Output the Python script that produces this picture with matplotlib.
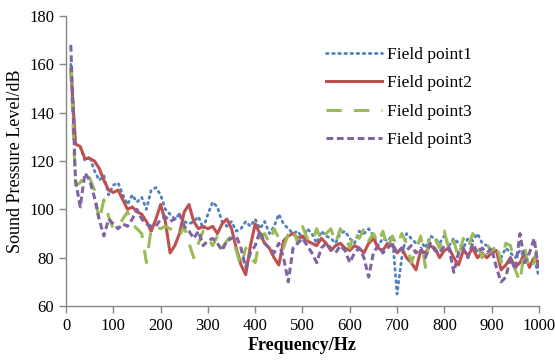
import numpy as np
import matplotlib
matplotlib.use("Agg")
import matplotlib.pyplot as plt

freq = list(range(10, 1001, 10))

fp1 = [160,127,126,120,122,116,112,114,106,110,111,106,102,106,103,105,100,108,109,106,
       100,98,96,98,95,94,95,97,92,98,103,101,95,93,95,91,92,95,93,96,
       92,95,90,93,98,94,92,90,91,88,92,90,86,91,89,88,86,90,91,88,
       86,91,90,92,89,85,88,87,89,65,80,90,88,86,87,84,89,88,86,89,
       85,88,86,84,88,87,90,86,85,82,83,80,84,82,80,83,80,77,80,72]
fp2 = [158,127,126,121,121,120,117,112,108,107,108,104,100,101,99,98,95,91,96,102,
       95,82,85,90,99,102,95,92,93,92,93,90,94,96,92,84,77,73,85,94,
       90,86,84,80,77,87,89,90,88,89,87,86,85,88,86,83,85,86,84,83,
       85,84,82,86,88,84,83,86,85,82,84,80,78,75,83,82,85,84,80,83,
       84,80,77,83,81,84,80,82,80,82,83,75,77,80,76,78,82,76,80,78]
fp3 = [158,110,111,115,113,108,95,104,97,92,93,96,99,94,92,90,78,92,93,92,
       93,92,91,89,93,86,80,86,91,88,85,89,84,87,89,83,76,84,80,78,
       88,90,86,92,88,84,90,92,86,93,88,86,92,87,90,92,86,92,89,84,
       91,88,92,87,90,86,91,84,89,85,90,86,78,83,89,76,90,88,84,91,
       83,87,80,88,84,90,86,80,86,82,86,78,86,85,75,70,84,75,78,88]
fp4 = [168,112,101,115,112,105,96,89,96,94,92,94,93,96,100,96,94,93,93,96,
       97,95,96,98,93,91,88,91,85,87,88,86,83,87,88,89,84,76,82,85,
       91,86,84,82,86,80,70,84,86,88,85,82,78,84,86,84,82,85,83,78,
       82,84,80,72,82,85,82,84,86,82,84,83,85,82,84,80,86,83,82,85,
       84,74,82,84,80,86,82,84,82,84,76,70,72,80,75,90,78,82,88,74]

labels = ["Field point1", "Field point2", "Field point3", "Field point3"]
xticks = list(range(0, 1001, 100))
yticks = list(range(60, 181, 20))

plt.rcParams['font.family'] = ['Liberation Serif', 'DejaVu Serif']

fig = plt.figure(figsize=(5.55, 3.61), dpi=100)
ax = fig.add_axes([0.119, 0.152, 0.852, 0.804])

ax.plot(freq, fp1, color='#4F81BD', lw=2.0, linestyle=(0, (0.6, 1.6)),
        dash_capstyle='round', label=labels[0])
ax.plot(freq, fp2, color='#C0504D', lw=2.2, label=labels[1])
ax.plot(freq, fp3, color='#9BBB59', lw=2.2, linestyle=(0, (5, 4)), label=labels[2])
ax.plot(freq, fp4, color='#8064A2', lw=2.2, linestyle=(0, (2.2, 1.2)), label=labels[3])

ax.set_xlim(0, 1000)
ax.set_ylim(60, 180)
ax.set_xticks(xticks)
ax.set_yticks(yticks)
for s in ['top', 'right']:
    ax.spines[s].set_visible(False)
for s in ['left', 'bottom']:
    ax.spines[s].set_color('#868686')
    ax.spines[s].set_linewidth(1.0)
ax.tick_params(axis='both', colors='#868686', labelcolor='black', labelsize=12,
               length=5, width=1.0, direction='out')
ax.set_xlabel('Frequency/Hz', fontsize=13, fontweight='bold', labelpad=2)
ax.set_ylabel('Sound Pressure Level/dB', fontsize=13, labelpad=4)

leg = ax.legend(loc='upper left', bbox_to_anchor=(0.517, 0.947), frameon=False,
                fontsize=12.5, handlelength=3.2, handletextpad=0.3, labelspacing=0.7)

fig.savefig('out.png', dpi=100)
